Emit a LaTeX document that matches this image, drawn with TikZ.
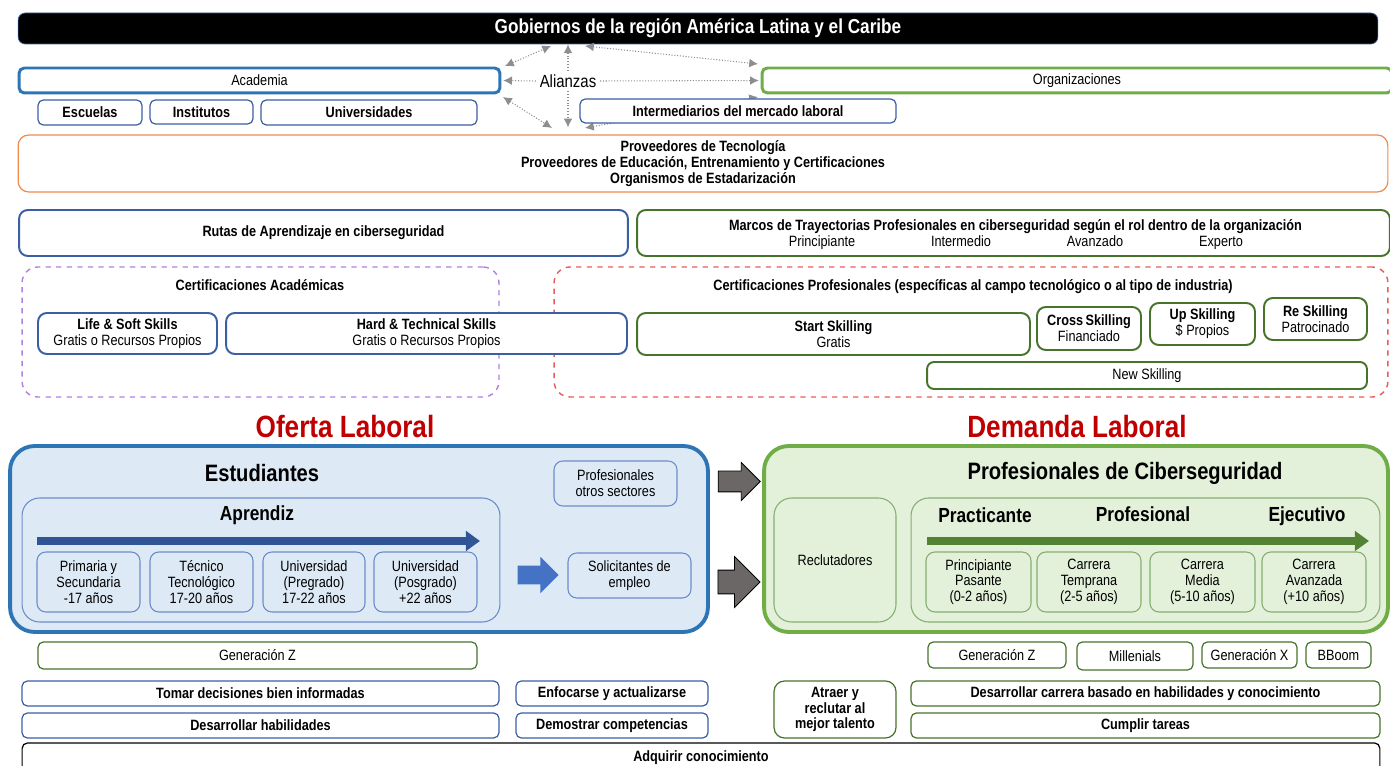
\documentclass[tikz,border=0pt]{standalone}
\usepackage{fontspec}
\setmainfont{Liberation Sans}[FakeStretch=0.85]
\usetikzlibrary{arrows.meta,shapes.arrows}
\definecolor{azulF}{HTML}{2E75B6}
\definecolor{azulC}{HTML}{3B5FA5}
\definecolor{azulI}{HTML}{6C8CC8}
\definecolor{verdeF}{HTML}{70AD47}
\definecolor{verdeO}{HTML}{46742A}
\definecolor{verdeI}{HTML}{86AE70}
\definecolor{naranja}{HTML}{EE8B4F}
\definecolor{morado}{HTML}{B07FE4}
\definecolor{rojoD}{HTML}{E85A5A}
\definecolor{rojoT}{HTML}{C00000}
\definecolor{fondoAz}{HTML}{DDEAF6}
\definecolor{fondoVe}{HTML}{E3F0DA}
\definecolor{grisF}{HTML}{6B6767}
\definecolor{grisL}{HTML}{8E8E8E}
\definecolor{flechaAz}{HTML}{2F5597}
\definecolor{flechaVe}{HTML}{548235}
\definecolor{bloqueAz}{HTML}{4472C4}

\begin{document}
\begin{tikzpicture}[x=0.02cm, y=-0.02cm,
  every node/.style={font=\fontsize{8.5}{9}\selectfont, align=center, inner sep=1pt},
  caja/.style={draw=azulC, line width=0.7pt, rounded corners=3pt, fill=white},
  cajab/.style={caja, font=\bfseries\fontsize{8.5}{9}\selectfont},
  cajam/.style={caja, line width=1.1pt},
  cajav/.style={caja, draw=verdeO},
  cajavb/.style={cajab, draw=verdeO},
  cajavm/.style={cajav, line width=1.1pt},
  negrita/.style={font=\bfseries\fontsize{8.5}{9}\selectfont},
  linea/.style={text height=6.2pt, text depth=1.8pt},
  titulo/.style={font=\bfseries\fontsize{13.5}{15}\selectfont},
  subtit/.style={font=\bfseries\fontsize{11.6}{13}\selectfont, text height=8.5pt, text depth=2.5pt},
  rojo/.style={text=rojoT, font=\bfseries\fontsize{17.5}{19}\selectfont},
  etapa/.style={draw=azulI, line width=0.6pt, rounded corners=5pt, fill=fondoAz, minimum height=1.2cm},
  etapav/.style={etapa, draw=verdeI, fill=fondoVe},
  alink/.style={grisL, densely dotted, line width=0.6pt, -{Latex[length=5pt,width=5pt]}},
  ambos/.style={alink, {Latex[length=5pt,width=5pt]}-{Latex[length=5pt,width=5pt]}},
  bloque/.style={single arrow, single arrow head indent=0pt, inner xsep=0pt},
  larga/.style={line width=5pt, -{Triangle[length=8pt,width=11pt]}}
]
\useasboundingbox (0,0) rectangle (1390,766);
\clip (0,0) rectangle (1390,766);

\node[fill=black, draw=azulC, rounded corners=4pt, text=white, minimum width=27.2cm, minimum height=0.62cm,
  font=\bfseries\fontsize{11.5}{13}\selectfont] (gob) at (698,28.5) {Gobiernos de la región América Latina y el Caribe};
\node[caja, draw=azulF, line width=1.7pt, minimum width=9.62cm, minimum height=0.5cm] (acad) at (259.5,80.5) {Academia};
\node[caja, draw=verdeF, line width=1.7pt, minimum width=12.6cm, minimum height=0.5cm] (org) at (1077,80.5) {Organizaciones};
\node[font=\fontsize{10}{11}\selectfont, inner sep=2pt] (alz) at (568,81) {Alianzas};
\node[caja, draw=naranja, rounded corners=6pt, minimum width=27.4cm, minimum height=1.14cm, negrita] (prov) at (703,163.5)
  {Proveedores de Tecnología\\Proveedores de Educación, Entrenamiento y Certificaciones\\Organismos de Estadarización};

\coordinate (a1) at (505,66);
\coordinate (a2) at (551,46);
\coordinate (a3) at (585,46);
\coordinate (a4) at (758,64);
\coordinate (a5) at (503,97);
\coordinate (a6) at (552,128);
\coordinate (a7) at (585,128);
\coordinate (a8) at (758,97);
\draw[alink] (alz.north) -- (alz.north |- gob.south);
\draw[alink, shorten >=4pt] (alz.south) -- (alz.south |- prov.north);
\draw[alink, shorten >=1pt] (alz.west) -- (acad.east);
\draw[alink, shorten >=1pt] (alz.east) -- (org.west);
\draw[ambos] (a1) -- (a2);
\draw[ambos] (a3) -- (a4);
\draw[ambos] (a5) -- (a6);
\draw[ambos] (a7) -- (a8);

\node[cajab, minimum width=2.08cm, minimum height=0.5cm] (esc) at (90,112.5) {Escuelas};
\node[cajab, minimum width=2.06cm, minimum height=0.48cm] (inst) at (201.5,112) {Institutos};
\node[cajab, minimum width=4.32cm, minimum height=0.5cm] (univ) at (369,112.5) {Universidades};
\node[cajab, minimum width=6.32cm, minimum height=0.48cm] (inter) at (738,111) {Intermediarios del mercado laboral};

\node[cajam, rounded corners=5pt, minimum width=12.18cm, minimum height=0.92cm, negrita] (rutas) at (323.5,233) {Rutas de Aprendizaje en ciberseguridad};
\node[cajavm, rounded corners=5pt, minimum width=15.06cm, minimum height=0.92cm] (marcos) at (1013.5,233) {};
\node[negrita, linea] (mtit) at (1015.5,227) {Marcos de Trayectorias Profesionales en ciberseguridad según el rol dentro de la organización};
\node[linea] (niv1) at (822,243) {Principiante};
\node[linea] (niv2) at (961,243) {Intermedio};
\node[linea] (niv3) at (1095,243) {Avanzado};
\node[linea] (niv4) at (1221,243) {Experto};

\node[draw=morado, dashed, line width=0.8pt, rounded corners=9pt, minimum width=9.54cm, minimum height=2.6cm] (acert) at (260.5,332) {};
\node[negrita, linea] (acertt) at (260,287) {Certificaciones Académicas};
\node[draw=rojoD, dashed, line width=0.8pt, rounded corners=9pt, minimum width=16.68cm, minimum height=2.6cm] (pcert) at (971,332) {};
\node[negrita, linea] (pcertt) at (973,287) {Certificaciones Profesionales (específicas al campo tecnológico o al tipo de industria)};

\node[cajam, rounded corners=5pt, minimum width=3.58cm, minimum height=0.82cm] (life) at (127.5,333.5) {\textbf{Life \& Soft Skills}\\Gratis o Recursos Propios};
\node[cajam, rounded corners=5pt, minimum width=8.02cm, minimum height=0.82cm] (hard) at (426.5,333.5) {\textbf{Hard \& Technical Skills}\\Gratis o Recursos Propios};
\node[cajavm, rounded corners=5pt, minimum width=7.86cm, minimum height=0.84cm] (start) at (833.5,334) {\textbf{Start Skilling}\\Gratis};
\node[cajavm, rounded corners=5pt, minimum width=2.08cm, minimum height=0.86cm] (cross) at (1089,328.5) {\textbf{Cross\,Skilling}\\Financiado};
\node[cajavm, rounded corners=5pt, minimum width=2.1cm, minimum height=0.84cm] (up) at (1202.5,324) {\textbf{Up Skilling}\\\$ Propios};
\node[cajavm, rounded corners=5pt, minimum width=2.06cm, minimum height=0.84cm] (re) at (1315.5,319) {\textbf{Re Skilling}\\Patrocinado};
\node[cajavm, rounded corners=4pt, minimum width=8.8cm, minimum height=0.54cm] (new) at (1147,375.5) {New Skilling};

\node[rojo] (ofl) at (345,427) {Oferta Laboral};
\node[rojo] (dml) at (1077,427) {Demanda Laboral};

% oferta
\node[draw=azulF, fill=fondoAz, line width=2.2pt, rounded corners=14pt, minimum width=13.96cm, minimum height=3.72cm] (ofbox) at (359,539) {};
\node[titulo] (est) at (262,473) {Estudiantes};
\node[etapa, minimum width=2.46cm, minimum height=0.9cm] (otros) at (615.5,483.5) {Profesionales\\otros sectores};
\node[etapa, rounded corners=10pt, minimum width=9.56cm, minimum height=2.48cm] (apbox) at (261,560) {};
\node[subtit] (apr) at (257,515) {Aprendiz};
\coordinate (ap1) at (37,541);
\coordinate (ap2) at (480,541);
\draw[larga, flechaAz] (ap1) -- (ap2);
\node[etapa, minimum width=2.06cm] (e1) at (88.5,582) {Primaria y\\Secundaria\\-17 años};
\node[etapa, minimum width=2.06cm] (e2) at (201.5,582) {Técnico\\Tecnológico\\17-20 años};
\node[etapa, minimum width=2.04cm] (e3) at (314,582) {Universidad\\(Pregrado)\\17-22 años};
\node[etapa, minimum width=2.06cm] (e4) at (425.5,582) {Universidad\\(Posgrado)\\+22 años};
\node[bloque, fill=bloqueAz, minimum height=0.82cm, inner ysep=0.18cm, single arrow head extend=0.18cm] (fa) at (533.5,575) {};
\node[etapa, minimum width=2.46cm, minimum height=0.9cm] (solic) at (629.5,575.5) {Solicitantes de\\empleo};

\node[bloque, fill=grisF, draw=black, line width=0.5pt, minimum height=0.84cm, inner ysep=0.2cm, single arrow head extend=0.17cm] (g1) at (734,481.5) {};
\node[bloque, fill=grisF, draw=black, line width=0.5pt, minimum height=0.84cm, inner ysep=0.23cm, single arrow head extend=0.27cm] (g2) at (733,582) {};

% demanda
\node[draw=verdeF, fill=fondoVe, line width=2.2pt, rounded corners=14pt, minimum width=12.48cm, minimum height=3.72cm] (dmbox) at (1076,539) {};
\node[titulo] (prof) at (1125,473) {Profesionales de Ciberseguridad};
\node[etapav, rounded corners=10pt, minimum width=2.44cm, minimum height=2.48cm] (recl) at (835,560) {Reclutadores};
\node[etapav, rounded corners=10pt, minimum width=9.38cm, minimum height=2.48cm] (inbox) at (1145.5,560) {};
\node[subtit] (prac) at (985,517) {Practicante};
\node[subtit] (pro) at (1143,516) {Profesional};
\node[subtit] (eje) at (1307,516) {Ejecutivo};
\coordinate (dp1) at (927,541);
\coordinate (dp2) at (1369,541);
\draw[larga, flechaVe] (dp1) -- (dp2);
\node[etapav, minimum width=2.1cm] (d1) at (978.5,582) {Principiante\\Pasante\\(0-2 años)};
\node[etapav, minimum width=2.08cm] (d2) at (1089,582) {Carrera\\Temprana\\(2-5 años)};
\node[etapav, minimum width=2.1cm] (d3) at (1202.5,582) {Carrera\\Media\\(5-10 años)};
\node[etapav, minimum width=2.08cm] (d4) at (1314,582) {Carrera\\Avanzada\\(+10 años)};

% abajo
\node[cajav, minimum width=8.78cm, minimum height=0.54cm] (gz1) at (257.5,655.5) {Generación Z};
\node[cajav, minimum width=2.76cm, minimum height=0.52cm] (gz2) at (997,655) {Generación Z};
\node[cajav, minimum width=2.32cm, minimum height=0.56cm] (mil) at (1135,656) {Millenials};
\node[cajav, minimum width=1.9cm, minimum height=0.52cm] (gx) at (1249.5,655) {Generación X};
\node[cajav, minimum width=1.3cm, minimum height=0.52cm] (bb) at (1338.5,655) {BBoom};
\node[cajab, minimum width=9.54cm, minimum height=0.5cm] (tom) at (260.5,693.5) {Tomar decisiones bien informadas};
\node[cajab, minimum width=3.84cm, minimum height=0.5cm] (enf) at (612,693.5) {Enfocarse y actualizarse};
\node[cajab, minimum width=9.54cm, minimum height=0.5cm] (dha) at (260.5,725.5) {Desarrollar habilidades};
\node[cajab, minimum width=3.84cm, minimum height=0.5cm] (dco) at (612,725.5) {Demostrar competencias};
\node[cajavb, rounded corners=6pt, minimum width=2.44cm, minimum height=1.14cm] (atr) at (835,709.5) {Atraer y\\reclutar al\\mejor talento};
\node[cajavb, minimum width=9.38cm, minimum height=0.5cm] (dca) at (1145.5,693.5) {Desarrollar carrera basado en habilidades y conocimiento};
\node[cajavb, minimum width=9.38cm, minimum height=0.5cm] (cum) at (1145.5,725.5) {Cumplir tareas};
\node[cajab, draw=black, minimum width=27.16cm, minimum height=0.6cm] (adq) at (701,758) {Adquirir conocimiento};
\end{tikzpicture}
\end{document}
